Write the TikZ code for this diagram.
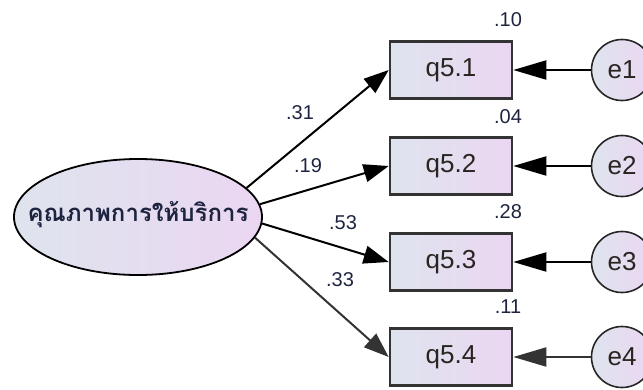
\documentclass[tikz,border=0pt]{standalone}
\usepackage{fontspec}
\setmainfont{Liberation Sans}
\newfontfamily\thaifont[Script=Thai]{Loma}
\usetikzlibrary{shapes.geometric,arrows.meta}
\definecolor{fillL}{HTML}{DEE4EE}
\definecolor{fillR}{HTML}{EBD6F2}
\definecolor{lbl}{HTML}{1E2440}
\definecolor{txt}{HTML}{2A2420}
\tikzset{
  obs/.style={draw=black!80,line width=2.6pt,rectangle,minimum width=122pt,minimum height=57pt,inner sep=0pt,left color=fillL,right color=fillR,font=\fontsize{26}{26}\selectfont,text=txt},
  err/.style={draw=black!85,line width=1.6pt,circle,minimum size=61pt,inner sep=0pt,left color=fillL,right color=fillR,font=\fontsize{26}{26}\selectfont,text=txt},
  lat/.style={draw=black,line width=1.8pt,ellipse,minimum width=248pt,minimum height=116pt,inner sep=0pt,left color=fillL,right color=fillR},
  lattext/.style={text=lbl,inner sep=0pt,font=\thaifont\bfseries\fontsize{24}{24}\selectfont},
  path/.style={line width=2pt,-{Triangle[length=25pt,width=18pt]}},
  epath/.style={line width=2pt,-{Triangle[length=33pt,width=19pt]}},
  coef/.style={font=\fontsize{20}{20}\selectfont,text=lbl,inner sep=0pt}
}
\begin{document}
\begin{tikzpicture}[x=1pt,y=-1pt]
\useasboundingbox (0,0) rectangle (643,389);
\node[lat] (f) at (138,217) {};
\node[lattext] (ft) at (138,215) {คุณภาพการให้บริการ};
\node[obs] (b1) at (451,70) {q5.1};
\node[obs] (b2) at (451,166) {q5.2};
\node[obs] (b3) at (451,262) {q5.3};
\node[obs] (b4) at (451,357) {q5.4};
\node[err] (e1) at (622,70) {e1};
\node[err] (e2) at (622,166) {e2};
\node[err] (e3) at (622,262) {e3};
\node[err] (e4) at (622,357) {e4};
\draw[path] (f.15) -- (b1.west);
\draw[path] (f.6) -- (b2.west);
\draw[path] (f.-3) -- (b3.west);
\draw[path,black!80] (f.-10) -- (b4.west);
\draw[epath] (e1) -- (b1.east);
\draw[epath] (e2) -- (b2.east);
\draw[epath] (e3) -- (b3.east);
\draw[epath,black!80] (e4) -- (b4.east);
\node[coef] (c1) at (300,113) {.31};
\node[coef] (c2) at (308,166) {.19};
\node[coef] (c3) at (343,223) {.53};
\node[coef] (c4) at (340,280) {.33};
\node[coef] (r1) at (508,20) {.10};
\node[coef] (r2) at (508,117) {.04};
\node[coef] (r3) at (508,212) {.28};
\node[coef] (r4) at (508,307) {.11};
\end{tikzpicture}
\end{document}
